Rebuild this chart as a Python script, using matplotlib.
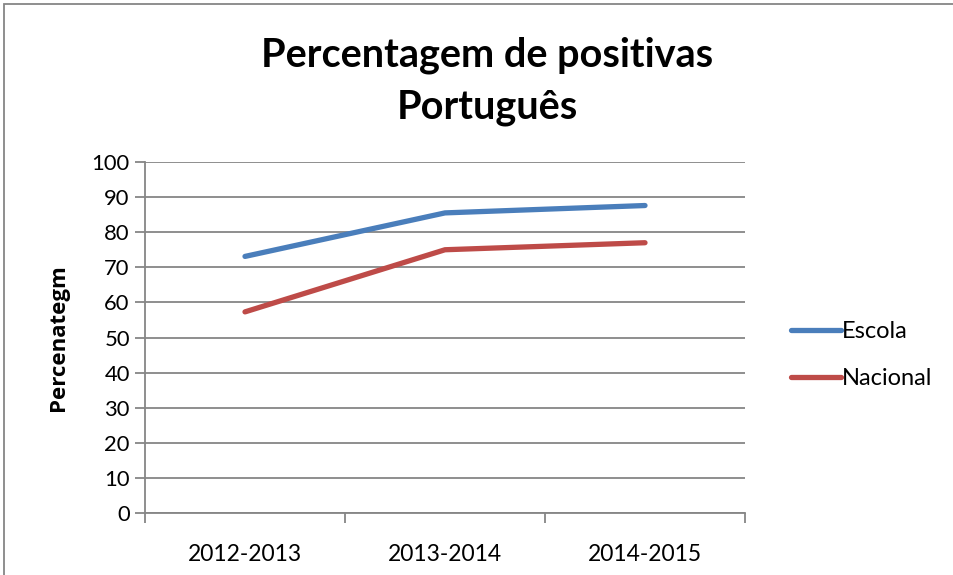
import matplotlib
matplotlib.use("Agg")
import matplotlib.pyplot as plt
from matplotlib.patches import Rectangle

categories = ["2012-2013", "2013-2014", "2014-2015"]
escola = [73.1, 85.5, 87.6]
nacional = [57.3, 75.0, 77.0]
yticks = [0, 10, 20, 30, 40, 50, 60, 70, 80, 90, 100]

W, H = 954, 575
fig = plt.figure(figsize=(W / 100, H / 100), dpi=100)
plt.rcParams['font.family'] = ['Lato', 'DejaVu Sans']

grey = "#868686"
# plot area in pixels
L, R, T, B = 145, 745, 162, 513
ax = fig.add_axes([L / W, 1 - B / H, (R - L) / W, (B - T) / H])

x = list(range(len(categories)))
ax.plot(x, escola, color="#4A7EBB", lw=3.8, solid_capstyle="round", label="Escola")
ax.plot(x, nacional, color="#BE4B48", lw=3.8, solid_capstyle="round", label="Nacional")

ax.set_xlim(-0.5, len(categories) - 0.5)
ax.set_ylim(0, 100)
ax.set_yticks(yticks)
ax.set_yticklabels([str(v) for v in yticks], fontsize=15.8)
ax.yaxis.grid(True, color=grey, lw=1.3)
ax.set_axisbelow(True)

ax.set_xticks([i - 0.5 for i in range(len(categories) + 1)])
ax.set_xticklabels([])
ax.set_xticks(x, minor=True)
ax.set_xticklabels(categories, minor=True, fontsize=16.5)
ax.tick_params(axis="x", which="minor", length=0, pad=22)
ax.tick_params(axis="x", which="major", length=7, width=1.3, color=grey)
ax.tick_params(axis="y", length=7, width=1.3, color=grey, pad=4)

for s in ["top", "right"]:
    ax.spines[s].set_visible(False)
for s in ["left", "bottom"]:
    ax.spines[s].set_color(grey)
    ax.spines[s].set_linewidth(1.3)

ax.set_ylabel("Percenategm", fontsize=16, fontweight="bold", family=["Open Sans", "DejaVu Sans"],
              labelpad=16)

fig.text(487 / W, 1 - 55 / H, "Percentagem de positivas", ha="center", va="center",
         fontsize=28.5, fontweight="bold")
fig.text(487 / W, 1 - 107 / H, "Português", ha="center", va="center",
         fontsize=28.5, fontweight="bold")

leg = fig.legend(loc="center left", bbox_to_anchor=(791 / W, 1 - 355 / H), frameon=False,
                 fontsize=17, handlelength=2.1, handletextpad=0.05, labelspacing=1.1,
                 borderpad=0, borderaxespad=0)

fig.add_artist(Rectangle((4 / W, -0.01), 1.02, 1 - 4 / H + 0.01, transform=fig.transFigure,
                         fill=False, edgecolor=grey, lw=1.3))

fig.savefig("out.png", dpi=100)
